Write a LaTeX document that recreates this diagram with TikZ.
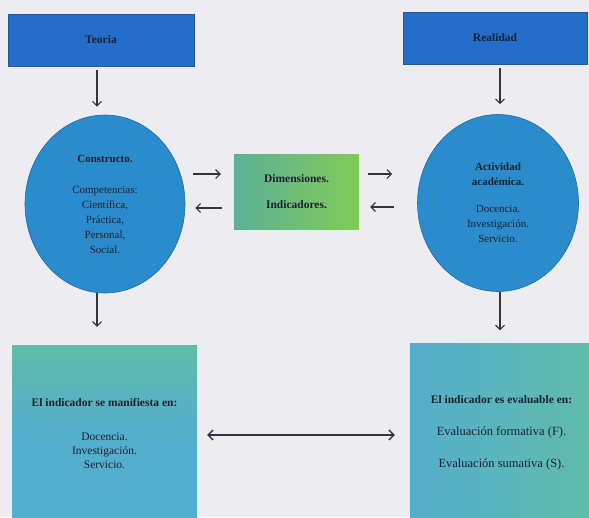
\documentclass[tikz,border=0pt]{standalone}
\usepackage{fontspec}
\setmainfont{Liberation Serif}
\usetikzlibrary{arrows.meta,shapes.geometric}
\definecolor{bg}{RGB}{237,237,241}
\definecolor{topblue}{RGB}{36,110,202}
\definecolor{topedge}{RGB}{28,88,165}
\definecolor{circblue}{RGB}{42,140,205}
\definecolor{circedge}{RGB}{30,108,170}
\definecolor{arrowc}{RGB}{55,50,62}
\definecolor{txt}{RGB}{30,32,45}
\definecolor{dimL}{RGB}{92,178,150}
\definecolor{dimR}{RGB}{128,202,88}
\definecolor{botA}{RGB}{84,174,205}
\definecolor{botB}{RGB}{96,188,168}
\tikzset{
  topbox/.style={rectangle, draw=topedge, fill=topblue, line width=0.6pt,
    minimum width=186pt, minimum height=52pt, inner sep=0pt, text=txt,
    font=\fontsize{11.5}{12}\selectfont\bfseries},
  circ/.style={ellipse, draw=circedge, fill=circblue, line width=0.6pt,
    minimum width=160pt, minimum height=178pt, inner sep=0pt, align=center,
    text=txt, font=\fontsize{11}{15}\selectfont},
  dimbox/.style={rectangle, draw=none, left color=dimL, right color=dimR,
    minimum width=125pt, minimum height=75pt, inner sep=0pt, align=center,
    text=txt, font=\fontsize{11.5}{15}\selectfont\bfseries},
  botbox/.style={rectangle, draw=none, minimum width=185pt, minimum height=178pt,
    inner sep=0pt, align=center, text=txt},
  arr/.style={draw=arrowc, line width=1.1pt, -{Straight Barb[length=4.5pt,width=9pt]}},
  darr/.style={draw=arrowc, line width=1.3pt, {Straight Barb[length=5pt,width=10pt]}-{Straight Barb[length=5pt,width=10pt]}},
}
\begin{document}
\begin{tikzpicture}[x=1pt,y=-1pt]
\useasboundingbox (0,0) rectangle (589,517);
\begin{scope}
\clip (0,0) rectangle (589,517);
\fill[bg] (0,0) rectangle (589,517);

% top boxes
\node[topbox] (teoria) at (101,40) {Teoria};
\node[topbox, minimum width=184pt] (realidad) at (495,38) {Realidad};

% circles
\node[circ] (constructo) at (105,204) {\textbf{Constructo.}\\[16pt]Competencias:\\Científica,\\Práctica,\\Personal,\\Social.};
\node[circ, minimum width=161pt, minimum height=177pt] (actividad) at (498,203) {\textbf{Actividad}\\\textbf{académica.}\\[12pt]Docencia.\\Investigación.\\Servicio.};

% middle box
\node[dimbox] (dim) at (296.5,191.5) {Dimensiones.\\[11pt]Indicadores.};

% bottom boxes
\node[botbox, top color=botB, bottom color=botA, middle color=botA,
  font=\fontsize{11.5}{14}\selectfont] (manif) at (104.5,434)
  {\textbf{El indicador se manifiesta en:}\\[20pt]Docencia.\\Investigación.\\Servicio.};
\node[botbox, left color=botA, right color=botB, minimum width=183pt,
  font=\fontsize{11.5}{15}\selectfont] (evalu) at (501.5,432.5)
  {\textbf{El indicador es evaluable en:}\\[17pt]{\fontsize{12.5}{15}\selectfont Evaluación formativa (F).}\\[17pt]{\fontsize{12.5}{15}\selectfont Evaluación sumativa (S).}};

% vertical arrows
\draw[arr, shorten <=4pt, shorten >=8pt] ([xshift=-4pt]teoria.south) -- ([xshift=-8pt]constructo.north);
\draw[arr, shorten <=4pt, shorten >=10pt] ([xshift=5pt]realidad.south) -- ([xshift=2pt]actividad.north);
\draw[arr, shorten <=0pt, shorten >=18pt] ([xshift=-8pt]constructo.south) -- ([xshift=-7.5pt]manif.north);
\draw[arr, shorten <=0pt, shorten >=13pt] ([xshift=2pt]actividad.south) -- ([xshift=-1.5pt]evalu.north);

% horizontal arrows
\draw[arr, shorten <=8pt, shorten >=13pt] ([yshift=30pt]constructo.east) -- ([yshift=17.5pt]dim.west);
\draw[arr, shorten <=12pt, shorten >=10pt] ([yshift=-16.5pt]dim.west) -- ([yshift=-4pt]constructo.east);
\draw[arr, shorten <=9pt, shorten >=25pt] ([yshift=17.5pt]dim.east) -- ([yshift=29pt]actividad.west);
\draw[arr, shorten <=23pt, shorten >=11pt] ([yshift=-4pt]actividad.west) -- ([yshift=-15.5pt]dim.east);
\draw[darr, shorten <=10pt, shorten >=15pt] ([yshift=-1pt]manif.east) -- ([yshift=-2.5pt]evalu.west);
\end{scope}
\end{tikzpicture}
\end{document}
